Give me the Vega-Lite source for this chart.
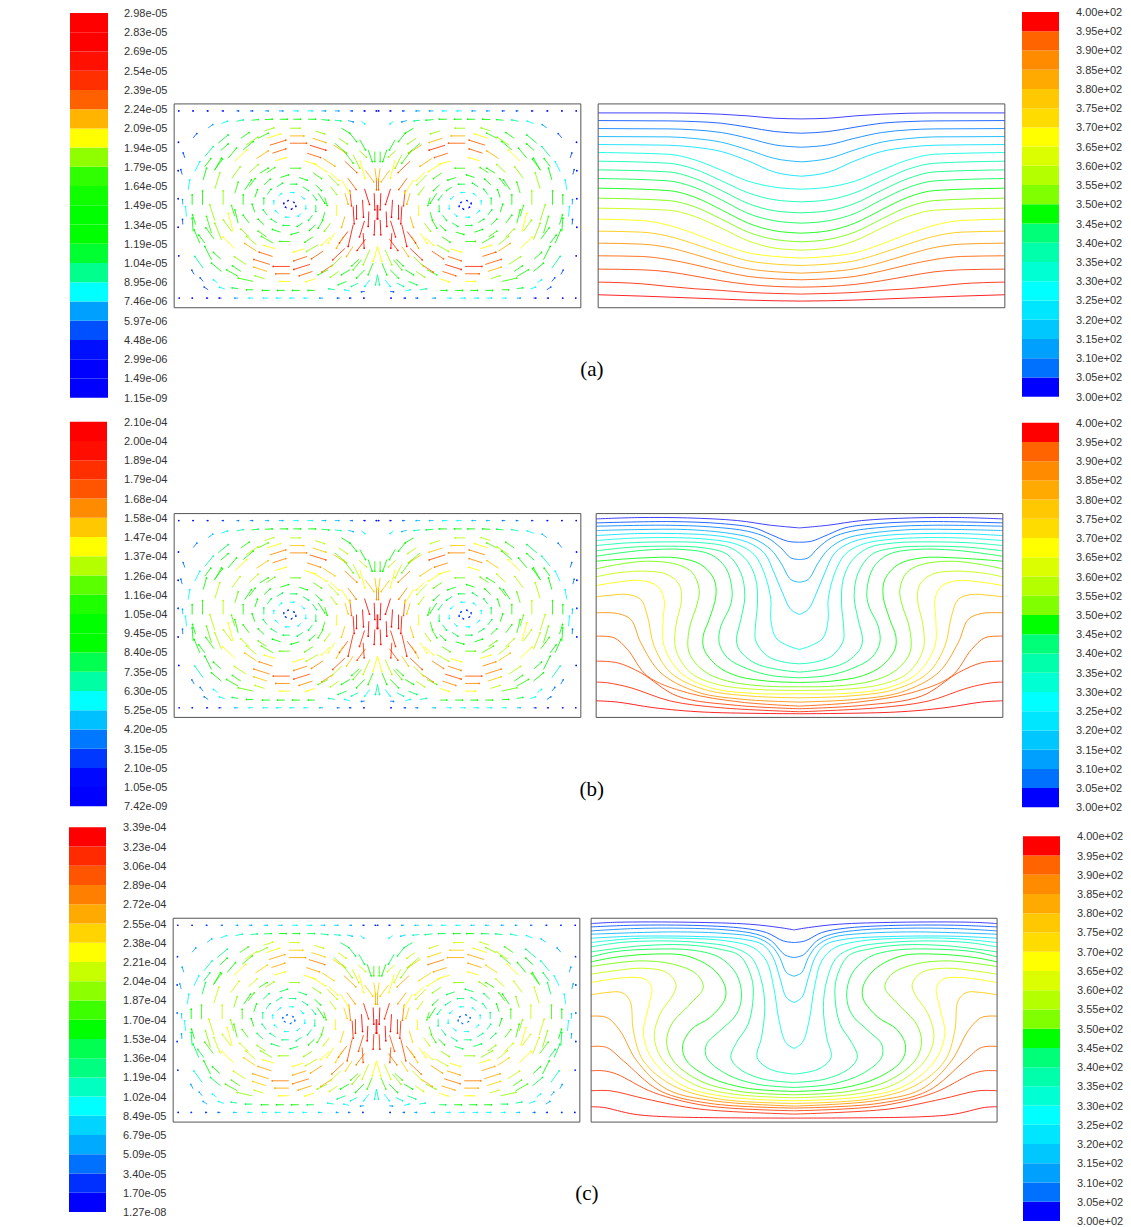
{"$schema":"https://vega.github.io/schema/vega-lite/v6.json","width":1131,"height":1227,"padding":0,"autosize":{"type":"fit","contains":"padding"},"background":"white","config":{"view":{"stroke":null},"axis":{"disable":true},"legend":{"disable":true},"text":{"font":"Liberation Sans"}},
"resolve":{"scale":{"x":"independent","y":"independent","color":"independent"}},
"datasets":{
"cells":[{"k":0,"k1":1},{"k":1,"k1":2},{"k":2,"k1":3},{"k":3,"k1":4},{"k":4,"k1":5},{"k":5,"k1":6},{"k":6,"k1":7},{"k":7,"k1":8},{"k":8,"k1":9},{"k":9,"k1":10},{"k":10,"k1":11},{"k":11,"k1":12},{"k":12,"k1":13},{"k":13,"k1":14},{"k":14,"k1":15},{"k":15,"k1":16},{"k":16,"k1":17},{"k":17,"k1":18},{"k":18,"k1":19},{"k":19,"k1":20}],
"labA":[{"k":20,"t":"2.98e-05"},{"k":19,"t":"2.83e-05"},{"k":18,"t":"2.69e-05"},{"k":17,"t":"2.54e-05"},{"k":16,"t":"2.39e-05"},{"k":15,"t":"2.24e-05"},{"k":14,"t":"2.09e-05"},{"k":13,"t":"1.94e-05"},{"k":12,"t":"1.79e-05"},{"k":11,"t":"1.64e-05"},{"k":10,"t":"1.49e-05"},{"k":9,"t":"1.34e-05"},{"k":8,"t":"1.19e-05"},{"k":7,"t":"1.04e-05"},{"k":6,"t":"8.95e-06"},{"k":5,"t":"7.46e-06"},{"k":4,"t":"5.97e-06"},{"k":3,"t":"4.48e-06"},{"k":2,"t":"2.99e-06"},{"k":1,"t":"1.49e-06"},{"k":0,"t":"1.15e-09"}],
"labB":[{"k":20,"t":"2.10e-04"},{"k":19,"t":"2.00e-04"},{"k":18,"t":"1.89e-04"},{"k":17,"t":"1.79e-04"},{"k":16,"t":"1.68e-04"},{"k":15,"t":"1.58e-04"},{"k":14,"t":"1.47e-04"},{"k":13,"t":"1.37e-04"},{"k":12,"t":"1.26e-04"},{"k":11,"t":"1.16e-04"},{"k":10,"t":"1.05e-04"},{"k":9,"t":"9.45e-05"},{"k":8,"t":"8.40e-05"},{"k":7,"t":"7.35e-05"},{"k":6,"t":"6.30e-05"},{"k":5,"t":"5.25e-05"},{"k":4,"t":"4.20e-05"},{"k":3,"t":"3.15e-05"},{"k":2,"t":"2.10e-05"},{"k":1,"t":"1.05e-05"},{"k":0,"t":"7.42e-09"}],
"labC":[{"k":20,"t":"3.39e-04"},{"k":19,"t":"3.23e-04"},{"k":18,"t":"3.06e-04"},{"k":17,"t":"2.89e-04"},{"k":16,"t":"2.72e-04"},{"k":15,"t":"2.55e-04"},{"k":14,"t":"2.38e-04"},{"k":13,"t":"2.21e-04"},{"k":12,"t":"2.04e-04"},{"k":11,"t":"1.87e-04"},{"k":10,"t":"1.70e-04"},{"k":9,"t":"1.53e-04"},{"k":8,"t":"1.36e-04"},{"k":7,"t":"1.19e-04"},{"k":6,"t":"1.02e-04"},{"k":5,"t":"8.49e-05"},{"k":4,"t":"6.79e-05"},{"k":3,"t":"5.09e-05"},{"k":2,"t":"3.40e-05"},{"k":1,"t":"1.70e-05"},{"k":0,"t":"1.27e-08"}],
"labT":[{"k":20,"t":"4.00e+02"},{"k":19,"t":"3.95e+02"},{"k":18,"t":"3.90e+02"},{"k":17,"t":"3.85e+02"},{"k":16,"t":"3.80e+02"},{"k":15,"t":"3.75e+02"},{"k":14,"t":"3.70e+02"},{"k":13,"t":"3.65e+02"},{"k":12,"t":"3.60e+02"},{"k":11,"t":"3.55e+02"},{"k":10,"t":"3.50e+02"},{"k":9,"t":"3.45e+02"},{"k":8,"t":"3.40e+02"},{"k":7,"t":"3.35e+02"},{"k":6,"t":"3.30e+02"},{"k":5,"t":"3.25e+02"},{"k":4,"t":"3.20e+02"},{"k":3,"t":"3.15e+02"},{"k":2,"t":"3.10e+02"},{"k":1,"t":"3.05e+02"},{"k":0,"t":"3.00e+02"}],
"frame":[{"a":-610,"b":610,"lo":0,"hi":612}],
"capA":[{"t":"(a)","d":643,"y":-186}],"capB":[{"t":"(b)","d":643,"y":-219}],"capC":[{"t":"(c)","d":631,"y":-216}],
"vec":[
{"d":281,"y":309,"d2":281,"y2":314,"c":2},{"d":272,"y":319,"d2":268,"y2":322,"c":2},{"d":254,"y":319,"d2":250,"y2":316,"c":2},{"d":245,"y":309,"d2":245,"y2":304,"c":2},{"d":254,"y":299,"d2":258,"y2":296,"c":2},{"d":272,"y":299,"d2":276,"y2":302,"c":2},
{"d":311,"y":309,"d2":311,"y2":321,"c":5},{"d":297,"y":335,"d2":288,"y2":343,"c":5},{"d":263,"y":346,"d2":251,"y2":346,"c":5},{"d":229,"y":335,"d2":220,"y2":327,"c":5},{"d":215,"y":309,"d2":215,"y2":297,"c":5},{"d":229,"y":283,"d2":238,"y2":275,"c":5},{"d":263,"y":272,"d2":275,"y2":272,"c":5},{"d":297,"y":283,"d2":306,"y2":291,"c":5},
{"d":341,"y":309,"d2":341,"y2":329,"c":7},{"d":331,"y":340,"d2":319,"y2":356,"c":7},{"d":302,"y":363,"d2":285,"y2":374,"c":7},{"d":263,"y":371,"d2":243,"y2":371,"c":7},{"d":224,"y":363,"d2":207,"y2":352,"c":7},{"d":195,"y":340,"d2":183,"y2":324,"c":7},{"d":185,"y":309,"d2":185,"y2":289,"c":7},{"d":195,"y":278,"d2":207,"y2":262,"c":7},{"d":224,"y":255,"d2":241,"y2":244,"c":7},{"d":263,"y":247,"d2":283,"y2":247,"c":7},{"d":302,"y":255,"d2":319,"y2":266,"c":7},{"d":331,"y":278,"d2":343,"y2":294,"c":7},
{"d":368,"y":331,"d2":360,"y2":355,"c":9},{"d":340,"y":369,"d2":322,"y2":386,"c":8},{"d":291,"y":391,"d2":267,"y2":399,"c":8},{"d":235,"y":391,"d2":211,"y2":383,"c":8},{"d":186,"y":369,"d2":168,"y2":352,"c":9},{"d":158,"y":331,"d2":151,"y2":307,"c":10},{"d":158,"y":287,"d2":165,"y2":263,"c":10},{"d":186,"y":249,"d2":204,"y2":232,"c":9},{"d":235,"y":227,"d2":259,"y2":220,"c":8},{"d":291,"y":227,"d2":315,"y2":235,"c":8},{"d":340,"y":249,"d2":358,"y2":266,"c":8},{"d":368,"y":287,"d2":376,"y2":311,"c":9},
{"d":403,"y":309,"d2":403,"y2":339,"c":10},{"d":385,"y":364,"d2":367,"y2":388,"c":10},{"d":333,"y":405,"d2":308,"y2":421,"c":11},{"d":263,"y":419,"d2":233,"y2":419,"c":11},{"d":193,"y":405,"d2":168,"y2":388,"c":11},{"d":141,"y":364,"d2":123,"y2":340,"c":12},{"d":123,"y":309,"d2":123,"y2":279,"c":13},{"d":141,"y":254,"d2":159,"y2":230,"c":12},{"d":193,"y":213,"d2":218,"y2":197,"c":11},{"d":263,"y":199,"d2":293,"y2":199,"c":11},{"d":333,"y":213,"d2":358,"y2":230,"c":11},{"d":385,"y":254,"d2":403,"y2":278,"c":10},
{"d":428,"y":344,"d2":418,"y2":377,"c":11},{"d":384,"y":406,"d2":358,"y2":430,"c":12},{"d":307,"y":441,"d2":274,"y2":451,"c":13},{"d":219,"y":441,"d2":186,"y2":431,"c":13},{"d":142,"y":406,"d2":116,"y2":382,"c":13},{"d":98,"y":344,"d2":88,"y2":311,"c":14},{"d":98,"y":274,"d2":108,"y2":241,"c":14},{"d":142,"y":212,"d2":168,"y2":188,"c":13},{"d":219,"y":177,"d2":252,"y2":167,"c":13},{"d":307,"y":177,"d2":340,"y2":187,"c":13},{"d":384,"y":212,"d2":410,"y2":236,"c":12},{"d":428,"y":274,"d2":438,"y2":307,"c":11},
{"d":463,"y":309,"d2":463,"y2":351,"c":12},{"d":437,"y":389,"d2":412,"y2":423,"c":12},{"d":363,"y":448,"d2":328,"y2":471,"c":14},{"d":315,"y":464,"d2":275,"y2":477,"c":15},{"d":211,"y":464,"d2":171,"y2":451,"c":15},{"d":163,"y":448,"d2":128,"y2":425,"c":14},{"d":89,"y":389,"d2":64,"y2":355,"c":15},{"d":63,"y":309,"d2":63,"y2":267,"c":18},{"d":89,"y":229,"d2":114,"y2":195,"c":16},{"d":163,"y":170,"d2":198,"y2":147,"c":15},{"d":211,"y":154,"d2":251,"y2":141,"c":15},{"d":315,"y":154,"d2":355,"y2":167,"c":15},{"d":363,"y":170,"d2":398,"y2":193,"c":14},{"d":437,"y":229,"d2":462,"y2":263,"c":12},
{"d":488,"y":357,"d2":473,"y2":405,"c":12},{"d":428,"y":440,"d2":392,"y2":474,"c":13},{"d":323,"y":488,"d2":275,"y2":503,"c":15},{"d":263,"y":494,"d2":213,"y2":494,"c":15},{"d":203,"y":488,"d2":155,"y2":473,"c":16},{"d":98,"y":440,"d2":62,"y2":406,"c":15},{"d":39,"y":357,"d2":24,"y2":310,"c":18},{"d":39,"y":261,"d2":54,"y2":213,"c":17},{"d":98,"y":178,"d2":134,"y2":144,"c":16},{"d":203,"y":130,"d2":251,"y2":115,"c":16},{"d":263,"y":124,"d2":313,"y2":124,"c":16},{"d":323,"y":130,"d2":371,"y2":145,"c":15},{"d":428,"y":178,"d2":464,"y2":212,"c":13},{"d":488,"y":261,"d2":503,"y2":309,"c":12},
{"d":525,"y":309,"d2":525,"y2":351,"c":10},{"d":490,"y":412,"d2":465,"y2":446,"c":10},{"d":394,"y":489,"d2":359,"y2":512,"c":12},{"d":331,"y":509,"d2":291,"y2":522,"c":13},{"d":263,"y":516,"d2":221,"y2":516,"c":14},{"d":195,"y":509,"d2":155,"y2":496,"c":14},{"d":132,"y":489,"d2":97,"y2":466,"c":14},{"d":36,"y":412,"d2":11,"y2":378,"c":14},{"d":1,"y":309,"d2":1,"y2":267,"c":19},{"d":36,"y":206,"d2":61,"y2":172,"c":16},{"d":132,"y":130,"d2":167,"y2":107,"c":15},{"d":195,"y":109,"d2":235,"y2":96,"c":15},{"d":263,"y":102,"d2":305,"y2":102,"c":15},{"d":331,"y":109,"d2":371,"y2":122,"c":14},{"d":394,"y":130,"d2":429,"y2":153,"c":12},{"d":490,"y":206,"d2":515,"y2":240,"c":10},
{"d":556,"y":309,"d2":556,"y2":339,"c":9},{"d":518,"y":424,"d2":500,"y2":448,"c":8},{"d":470,"y":472,"d2":448,"y2":492,"c":9},{"d":410,"y":509,"d2":385,"y2":526,"c":10},{"d":339,"y":531,"d2":311,"y2":540,"c":12},{"d":263,"y":539,"d2":233,"y2":539,"c":12},{"d":187,"y":531,"d2":159,"y2":522,"c":12},{"d":116,"y":509,"d2":91,"y2":492,"c":12},{"d":55,"y":472,"d2":33,"y2":452,"c":12},{"d":55,"y":146,"d2":77,"y2":126,"c":10},{"d":116,"y":109,"d2":141,"y2":92,"c":12},{"d":187,"y":87,"d2":215,"y2":78,"c":13},{"d":263,"y":79,"d2":293,"y2":79,"c":13},{"d":339,"y":87,"d2":367,"y2":96,"c":12},{"d":410,"y":109,"d2":435,"y2":126,"c":10},{"d":470,"y":146,"d2":492,"y2":166,"c":9},{"d":518,"y":194,"d2":536,"y2":218,"c":8},{"d":546,"y":250,"d2":555,"y2":279,"c":9},
{"d":48,"y":560,"d2":38,"y2":552,"c":5},{"d":88,"y":562,"d2":73,"y2":558,"c":4},{"d":128,"y":563,"d2":110,"y2":561,"c":6},{"d":168,"y":565,"d2":146,"y2":563,"c":7},{"d":208,"y":566,"d2":186,"y2":566,"c":8},{"d":253,"y":566,"d2":231,"y2":566,"c":9},{"d":293,"y":566,"d2":271,"y2":566,"c":9},{"d":338,"y":565,"d2":316,"y2":566,"c":8},{"d":378,"y":563,"d2":358,"y2":565,"c":7},{"d":423,"y":560,"d2":403,"y2":564,"c":6},{"d":468,"y":553,"d2":450,"y2":560,"c":5},{"d":508,"y":540,"d2":494,"y2":550,"c":4},{"d":553,"y":510,"d2":542,"y2":523,"c":3},
{"d":578,"y":450,"d2":583,"y2":465,"c":3},{"d":586,"y":400,"d2":590,"y2":415,"c":3},{"d":584,"y":310,"d2":585,"y2":325,"c":4},{"d":584,"y":250,"d2":585,"y2":265,"c":3},{"d":550,"y":100,"d2":557,"y2":113,"c":3},
{"d":38,"y":49,"d2":48,"y2":48,"c":3},{"d":83,"y":50,"d2":98,"y2":54,"c":5},{"d":128,"y":54,"d2":146,"y2":57,"c":6},{"d":188,"y":52,"d2":208,"y2":52,"c":8},{"d":233,"y":52,"d2":255,"y2":52,"c":9},{"d":278,"y":52,"d2":300,"y2":52,"c":9},{"d":323,"y":52,"d2":345,"y2":52,"c":9},{"d":373,"y":54,"d2":393,"y2":54,"c":8},{"d":418,"y":57,"d2":436,"y2":60,"c":7},{"d":458,"y":56,"d2":474,"y2":62,"c":5},{"d":508,"y":54,"d2":520,"y2":62,"c":3},{"d":480,"y":75,"d2":492,"y2":84,"c":5},{"d":523,"y":79,"d2":532,"y2":90,"c":3},
{"d":6,"y":591,"d2":3,"y2":591,"c":1},{"d":43,"y":591,"d2":38,"y2":591,"c":1},{"d":83,"y":591,"d2":76,"y2":591,"c":3},{"d":128,"y":591,"d2":116,"y2":591,"c":4},{"d":168,"y":591,"d2":156,"y2":591,"c":4},{"d":210,"y":591,"d2":196,"y2":591,"c":5},{"d":253,"y":591,"d2":239,"y2":591,"c":5},{"d":296,"y":591,"d2":284,"y2":591,"c":4},{"d":338,"y":591,"d2":328,"y2":591,"c":4},{"d":383,"y":591,"d2":375,"y2":591,"c":3},{"d":423,"y":591,"d2":417,"y2":591,"c":3},{"d":468,"y":591,"d2":463,"y2":591,"c":2},{"d":513,"y":591,"d2":509,"y2":591,"c":1},{"d":556,"y":591,"d2":553,"y2":591,"c":1},{"d":598,"y":591,"d2":596,"y2":591,"c":0},
{"d":38,"y":29,"d2":41,"y2":29,"c":1},{"d":78,"y":29,"d2":83,"y2":29,"c":2},{"d":113,"y":29,"d2":120,"y2":29,"c":3},{"d":163,"y":29,"d2":173,"y2":29,"c":4},{"d":208,"y":29,"d2":220,"y2":29,"c":5},{"d":248,"y":29,"d2":262,"y2":29,"c":5},{"d":288,"y":29,"d2":302,"y2":29,"c":5},{"d":328,"y":29,"d2":342,"y2":29,"c":5},{"d":373,"y":29,"d2":385,"y2":29,"c":5},{"d":418,"y":29,"d2":428,"y2":29,"c":4},{"d":468,"y":29,"d2":475,"y2":29,"c":2},{"d":508,"y":29,"d2":512,"y2":29,"c":1},{"d":553,"y":29,"d2":556,"y2":29,"c":1},{"d":593,"y":29,"d2":595,"y2":29,"c":0},
{"d":598,"y":494,"d2":597,"y2":497,"c":1},{"d":598,"y":409,"d2":598,"y2":412,"c":1},{"d":598,"y":324,"d2":598,"y2":328,"c":2},{"d":598,"y":239,"d2":598,"y2":242,"c":1},{"d":596,"y":154,"d2":596,"y2":156,"c":1},
{"d":10,"y":344,"d2":8,"y2":294,"c":19},{"d":45,"y":324,"d2":42,"y2":272,"c":19},{"d":26,"y":289,"d2":28,"y2":244,"c":19},{"d":8,"y":264,"d2":10,"y2":219,"c":18},{"d":73,"y":304,"d2":70,"y2":252,"c":18},{"d":3,"y":389,"d2":3,"y2":354,"c":15},{"d":43,"y":224,"d2":40,"y2":179,"c":17},{"d":83,"y":354,"d2":78,"y2":306,"c":16},{"d":73,"y":249,"d2":88,"y2":184,"c":17},
{"d":8,"y":469,"d2":8,"y2":439,"c":10},{"d":28,"y":474,"d2":16,"y2":439,"c":9},{"d":53,"y":504,"d2":36,"y2":474,"c":8},{"d":83,"y":524,"d2":63,"y2":499,"c":8},{"d":108,"y":539,"d2":83,"y2":524,"c":8},{"d":53,"y":444,"d2":38,"y2":389,"c":13},{"d":73,"y":459,"d2":53,"y2":419,"c":12},{"d":8,"y":419,"d2":3,"y2":384,"c":14},{"d":103,"y":474,"d2":73,"y2":434,"c":11},{"d":128,"y":494,"d2":93,"y2":464,"c":11},
{"d":0,"y":184,"d2":13,"y2":139,"c":13},{"d":23,"y":174,"d2":43,"y2":129,"c":12},{"d":13,"y":134,"d2":28,"y2":99,"c":10},{"d":48,"y":144,"d2":73,"y2":114,"c":11},{"d":38,"y":114,"d2":63,"y2":89,"c":9},{"d":83,"y":114,"d2":108,"y2":99,"c":9},{"d":0,"y":99,"d2":6,"y2":69,"c":6},{"d":23,"y":84,"d2":38,"y2":64,"c":5},{"d":58,"y":74,"d2":78,"y2":64,"c":6},{"d":93,"y":79,"d2":118,"y2":69,"c":7},{"d":108,"y":154,"d2":138,"y2":124,"c":12},{"d":148,"y":114,"d2":178,"y2":99,"c":11},{"d":73,"y":184,"d2":93,"y2":154,"c":14},{"d":103,"y":214,"d2":123,"y2":179,"c":14},
{"d":498,"y":144,"d2":518,"y2":184,"c":9},{"d":533,"y":194,"d2":550,"y2":234,"c":8},{"d":553,"y":229,"d2":556,"y2":269,"c":8},{"d":498,"y":224,"d2":513,"y2":274,"c":11},{"d":468,"y":204,"d2":488,"y2":254,"c":12},{"d":433,"y":229,"d2":448,"y2":284,"c":13},{"d":478,"y":494,"d2":448,"y2":519,"c":7},{"d":518,"y":454,"d2":493,"y2":484,"c":6},{"d":548,"y":409,"d2":533,"y2":439,"c":5},{"d":568,"y":354,"d2":563,"y2":384,"c":5},{"d":573,"y":274,"d2":576,"y2":304,"c":5},{"d":523,"y":384,"d2":513,"y2":419,"c":8},{"d":488,"y":414,"d2":468,"y2":449,"c":9},{"d":448,"y":449,"d2":423,"y2":479,"c":9},{"d":403,"y":474,"d2":373,"y2":499,"c":10},{"d":358,"y":509,"d2":328,"y2":524,"c":11},{"d":523,"y":119,"d2":548,"y2":154,"c":6},{"d":468,"y":109,"d2":498,"y2":134,"c":8},{"d":418,"y":94,"d2":453,"y2":114,"c":10},{"d":373,"y":79,"d2":418,"y2":89,"c":11},
{"d":398,"y":354,"d2":378,"y2":384,"c":9},{"d":418,"y":254,"d2":428,"y2":294,"c":10},{"d":353,"y":404,"d2":328,"y2":419,"c":10},{"d":313,"y":194,"d2":348,"y2":214,"c":11},{"d":363,"y":189,"d2":393,"y2":214,"c":12},{"d":128,"y":224,"d2":148,"y2":194,"c":13},{"d":178,"y":189,"d2":213,"y2":169,"c":12},{"d":108,"y":384,"d2":83,"y2":344,"c":13},{"d":148,"y":399,"d2":118,"y2":369,"c":12},{"d":193,"y":434,"d2":153,"y2":409,"c":13},{"d":163,"y":264,"d2":178,"y2":239,"c":10},{"d":178,"y":344,"d2":158,"y2":314,"c":9}
],
"isoA":[
{"c":1,"d":0,"y":567},{"c":1,"d":80,"y":569},{"c":1,"d":160,"y":576},{"c":1,"d":240,"y":581},{"c":1,"d":320,"y":584},{"c":1,"d":400,"y":585},{"c":1,"d":610,"y":585},
{"c":2,"d":0,"y":524},{"c":2,"d":80,"y":529},{"c":2,"d":160,"y":542},{"c":2,"d":240,"y":554},{"c":2,"d":320,"y":559},{"c":2,"d":400,"y":561},{"c":2,"d":610,"y":562},
{"c":3,"d":0,"y":482},{"c":3,"d":80,"y":489},{"c":3,"d":160,"y":509},{"c":3,"d":240,"y":526},{"c":3,"d":320,"y":534},{"c":3,"d":400,"y":537},{"c":3,"d":610,"y":538},
{"c":4,"d":0,"y":438},{"c":4,"d":80,"y":448},{"c":4,"d":160,"y":474},{"c":4,"d":240,"y":497},{"c":4,"d":320,"y":508},{"c":4,"d":400,"y":513},{"c":4,"d":610,"y":514},
{"c":5,"d":0,"y":395},{"c":5,"d":80,"y":407},{"c":5,"d":160,"y":441},{"c":5,"d":240,"y":469},{"c":5,"d":320,"y":482},{"c":5,"d":400,"y":488},{"c":5,"d":610,"y":490},
{"c":6,"d":0,"y":356},{"c":6,"d":80,"y":362},{"c":6,"d":160,"y":380},{"c":6,"d":240,"y":413},{"c":6,"d":320,"y":444},{"c":6,"d":400,"y":461},{"c":6,"d":610,"y":466},
{"c":7,"d":0,"y":318},{"c":7,"d":80,"y":324},{"c":7,"d":160,"y":345},{"c":7,"d":240,"y":381},{"c":7,"d":320,"y":416},{"c":7,"d":400,"y":434},{"c":7,"d":610,"y":440},
{"c":8,"d":0,"y":285},{"c":8,"d":80,"y":291},{"c":8,"d":160,"y":313},{"c":8,"d":240,"y":352},{"c":8,"d":320,"y":388},{"c":8,"d":400,"y":408},{"c":8,"d":610,"y":414},
{"c":9,"d":0,"y":254},{"c":9,"d":80,"y":261},{"c":9,"d":160,"y":283},{"c":9,"d":240,"y":324},{"c":9,"d":320,"y":361},{"c":9,"d":400,"y":381},{"c":9,"d":610,"y":388},
{"c":10,"d":0,"y":224},{"c":10,"d":80,"y":231},{"c":10,"d":160,"y":254},{"c":10,"d":240,"y":294},{"c":10,"d":320,"y":332},{"c":10,"d":400,"y":352},{"c":10,"d":610,"y":359},
{"c":11,"d":0,"y":198},{"c":11,"d":80,"y":205},{"c":11,"d":160,"y":227},{"c":11,"d":240,"y":266},{"c":11,"d":320,"y":303},{"c":11,"d":400,"y":322},{"c":11,"d":610,"y":329},
{"c":12,"d":0,"y":173},{"c":12,"d":80,"y":179},{"c":12,"d":160,"y":201},{"c":12,"d":240,"y":239},{"c":12,"d":320,"y":274},{"c":12,"d":400,"y":293},{"c":12,"d":610,"y":299},
{"c":13,"d":0,"y":149},{"c":13,"d":80,"y":154},{"c":13,"d":160,"y":165},{"c":13,"d":240,"y":191},{"c":13,"d":320,"y":222},{"c":13,"d":400,"y":248},{"c":13,"d":480,"y":262},{"c":13,"d":610,"y":266},
{"c":14,"d":0,"y":127},{"c":14,"d":80,"y":131},{"c":14,"d":160,"y":141},{"c":14,"d":240,"y":164},{"c":14,"d":320,"y":191},{"c":14,"d":400,"y":215},{"c":14,"d":480,"y":227},{"c":14,"d":610,"y":230},
{"c":15,"d":0,"y":104},{"c":15,"d":80,"y":108},{"c":15,"d":160,"y":117},{"c":15,"d":240,"y":136},{"c":15,"d":320,"y":160},{"c":15,"d":400,"y":181},{"c":15,"d":480,"y":191},{"c":15,"d":610,"y":194},
{"c":16,"d":0,"y":84},{"c":16,"d":80,"y":87},{"c":16,"d":160,"y":94},{"c":16,"d":240,"y":110},{"c":16,"d":320,"y":129},{"c":16,"d":400,"y":145},{"c":16,"d":480,"y":154},{"c":16,"d":610,"y":156},
{"c":17,"d":0,"y":62},{"c":17,"d":80,"y":64},{"c":17,"d":160,"y":70},{"c":17,"d":240,"y":81},{"c":17,"d":320,"y":95},{"c":17,"d":400,"y":108},{"c":17,"d":480,"y":114},{"c":17,"d":610,"y":116},
{"c":18,"d":0,"y":41},{"c":18,"d":80,"y":43},{"c":18,"d":160,"y":46},{"c":18,"d":240,"y":52},{"c":18,"d":320,"y":57},{"c":18,"d":400,"y":64},{"c":18,"d":480,"y":72},{"c":18,"d":610,"y":77},
{"c":19,"d":0,"y":20},{"c":19,"d":80,"y":21},{"c":19,"d":160,"y":23},{"c":19,"d":240,"y":26},{"c":19,"d":320,"y":29},{"c":19,"d":400,"y":32},{"c":19,"d":480,"y":35},{"c":19,"d":610,"y":39}
],
"isoB":[
{"c":1,"i":0,"d":0,"y":569},{"c":1,"i":1,"d":86,"y":577},{"c":1,"i":2,"d":186,"y":591},{"c":1,"i":3,"d":336,"y":599},{"c":1,"i":4,"d":486,"y":600},{"c":1,"i":5,"d":610,"y":596},
{"c":2,"i":0,"d":0,"y":526},{"c":2,"i":1,"d":36,"y":529},{"c":2,"i":2,"d":86,"y":549},{"c":2,"i":3,"d":136,"y":569},{"c":2,"i":4,"d":236,"y":582},{"c":2,"i":5,"d":386,"y":588},{"c":2,"i":6,"d":610,"y":584},
{"c":3,"i":0,"d":0,"y":474},{"c":3,"i":1,"d":26,"y":479},{"c":3,"i":2,"d":56,"y":509},{"c":3,"i":3,"d":96,"y":539},{"c":3,"i":4,"d":156,"y":559},{"c":3,"i":5,"d":266,"y":572},{"c":3,"i":6,"d":406,"y":577},{"c":3,"i":7,"d":610,"y":574},
{"c":4,"i":0,"d":0,"y":406},{"c":4,"i":1,"d":26,"y":414},{"c":4,"i":2,"d":56,"y":464},{"c":4,"i":3,"d":86,"y":504},{"c":4,"i":4,"d":136,"y":536},{"c":4,"i":5,"d":206,"y":552},{"c":4,"i":6,"d":336,"y":564},{"c":4,"i":7,"d":486,"y":564},{"c":4,"i":8,"d":610,"y":561},
{"c":5,"i":0,"d":0,"y":309},{"c":5,"i":1,"d":26,"y":324},{"c":5,"i":2,"d":51,"y":374},{"c":5,"i":3,"d":76,"y":434},{"c":5,"i":4,"d":106,"y":494},{"c":5,"i":5,"d":156,"y":526},{"c":5,"i":6,"d":236,"y":544},{"c":5,"i":7,"d":366,"y":552},{"c":5,"i":8,"d":486,"y":552},{"c":5,"i":9,"d":610,"y":546},
{"c":6,"i":0,"d":0,"y":204},{"c":6,"i":1,"d":36,"y":216},{"c":6,"i":2,"d":71,"y":239},{"c":6,"i":3,"d":86,"y":294},{"c":6,"i":4,"d":86,"y":354},{"c":6,"i":5,"d":106,"y":434},{"c":6,"i":6,"d":136,"y":489},{"c":6,"i":7,"d":186,"y":519},{"c":6,"i":8,"d":266,"y":534},{"c":6,"i":9,"d":386,"y":540},{"c":6,"i":10,"d":506,"y":538},{"c":6,"i":11,"d":610,"y":531},
{"c":7,"i":0,"d":0,"y":161},{"c":7,"i":1,"d":46,"y":166},{"c":7,"i":2,"d":96,"y":184},{"c":7,"i":3,"d":131,"y":229},{"c":7,"i":4,"d":133,"y":264},{"c":7,"i":5,"d":126,"y":344},{"c":7,"i":6,"d":131,"y":414},{"c":7,"i":7,"d":156,"y":469},{"c":7,"i":8,"d":206,"y":509},{"c":7,"i":9,"d":286,"y":524},{"c":7,"i":10,"d":406,"y":527},{"c":7,"i":11,"d":516,"y":524},{"c":7,"i":12,"d":610,"y":516},
{"c":8,"i":0,"d":0,"y":136},{"c":8,"i":1,"d":66,"y":144},{"c":8,"i":2,"d":136,"y":164},{"c":8,"i":3,"d":181,"y":204},{"c":8,"i":4,"d":189,"y":234},{"c":8,"i":5,"d":176,"y":294},{"c":8,"i":6,"d":164,"y":364},{"c":8,"i":7,"d":176,"y":434},{"c":8,"i":8,"d":216,"y":489},{"c":8,"i":9,"d":286,"y":509},{"c":8,"i":10,"d":386,"y":514},{"c":8,"i":11,"d":506,"y":511},{"c":8,"i":12,"d":610,"y":500},
{"c":9,"i":0,"d":0,"y":119},{"c":9,"i":1,"d":86,"y":126},{"c":9,"i":2,"d":156,"y":146},{"c":9,"i":3,"d":216,"y":179},{"c":9,"i":4,"d":241,"y":224},{"c":9,"i":5,"d":236,"y":274},{"c":9,"i":6,"d":208,"y":334},{"c":9,"i":7,"d":202,"y":379},{"c":9,"i":8,"d":221,"y":449},{"c":9,"i":9,"d":266,"y":489},{"c":9,"i":10,"d":346,"y":504},{"c":9,"i":11,"d":466,"y":502},{"c":9,"i":12,"d":610,"y":484},
{"c":10,"i":0,"d":0,"y":105},{"c":10,"i":1,"d":96,"y":109},{"c":10,"i":2,"d":186,"y":124},{"c":10,"i":3,"d":246,"y":154},{"c":10,"i":4,"d":286,"y":204},{"c":10,"i":5,"d":289,"y":244},{"c":10,"i":6,"d":271,"y":294},{"c":10,"i":7,"d":251,"y":364},{"c":10,"i":8,"d":256,"y":414},{"c":10,"i":9,"d":296,"y":459},{"c":10,"i":10,"d":366,"y":479},{"c":10,"i":11,"d":466,"y":479},{"c":10,"i":12,"d":610,"y":469},
{"c":11,"i":0,"d":0,"y":92},{"c":11,"i":1,"d":106,"y":94},{"c":11,"i":2,"d":216,"y":109},{"c":11,"i":3,"d":286,"y":139},{"c":11,"i":4,"d":331,"y":194},{"c":11,"i":5,"d":331,"y":264},{"c":11,"i":6,"d":306,"y":344},{"c":11,"i":7,"d":301,"y":384},{"c":11,"i":8,"d":321,"y":434},{"c":11,"i":9,"d":366,"y":459},{"c":11,"i":10,"d":456,"y":469},{"c":11,"i":11,"d":546,"y":459},{"c":11,"i":12,"d":610,"y":446},
{"c":12,"i":0,"d":0,"y":81},{"c":12,"i":1,"d":126,"y":84},{"c":12,"i":2,"d":246,"y":99},{"c":12,"i":3,"d":326,"y":134},{"c":12,"i":4,"d":371,"y":204},{"c":12,"i":5,"d":371,"y":274},{"c":12,"i":6,"d":354,"y":354},{"c":12,"i":7,"d":361,"y":399},{"c":12,"i":8,"d":396,"y":429},{"c":12,"i":9,"d":456,"y":439},{"c":12,"i":10,"d":546,"y":434},{"c":12,"i":11,"d":610,"y":422},
{"c":13,"i":0,"d":0,"y":71},{"c":13,"i":1,"d":136,"y":72},{"c":13,"i":2,"d":266,"y":89},{"c":13,"i":3,"d":356,"y":134},{"c":13,"i":4,"d":406,"y":214},{"c":13,"i":5,"d":409,"y":294},{"c":13,"i":6,"d":406,"y":354},{"c":13,"i":7,"d":426,"y":394},{"c":13,"i":8,"d":476,"y":411},{"c":13,"i":9,"d":546,"y":406},{"c":13,"i":10,"d":610,"y":396},
{"c":14,"i":0,"d":0,"y":59},{"c":14,"i":1,"d":146,"y":64},{"c":14,"i":2,"d":286,"y":84},{"c":14,"i":3,"d":386,"y":134},{"c":14,"i":4,"d":436,"y":214},{"c":14,"i":5,"d":456,"y":304},{"c":14,"i":6,"d":476,"y":354},{"c":14,"i":7,"d":516,"y":369},{"c":14,"i":8,"d":566,"y":367},{"c":14,"i":9,"d":610,"y":362},
{"c":15,"i":0,"d":0,"y":46},{"c":15,"i":1,"d":166,"y":54},{"c":15,"i":2,"d":306,"y":76},{"c":15,"i":3,"d":416,"y":134},{"c":15,"i":4,"d":476,"y":224},{"c":15,"i":5,"d":506,"y":294},{"c":15,"i":6,"d":546,"y":312},{"c":15,"i":7,"d":610,"y":314},
{"c":16,"i":0,"d":0,"y":34},{"c":16,"i":1,"d":176,"y":46},{"c":16,"i":2,"d":336,"y":74},{"c":16,"i":3,"d":456,"y":124},{"c":16,"i":4,"d":516,"y":204},{"c":16,"i":5,"d":556,"y":239},{"c":16,"i":6,"d":610,"y":244},
{"c":17,"i":0,"d":0,"y":26},{"c":17,"i":1,"d":186,"y":36},{"c":17,"i":2,"d":366,"y":64},{"c":17,"i":3,"d":476,"y":134},{"c":17,"i":4,"d":546,"y":164},{"c":17,"i":5,"d":610,"y":169},
{"c":18,"i":0,"d":0,"y":17},{"c":18,"i":1,"d":236,"y":29},{"c":18,"i":2,"d":386,"y":49},{"c":18,"i":3,"d":506,"y":89},{"c":18,"i":4,"d":576,"y":104},{"c":18,"i":5,"d":610,"y":106},
{"c":19,"i":0,"d":0,"y":11},{"c":19,"i":1,"d":286,"y":16},{"c":19,"i":2,"d":436,"y":29},{"c":19,"i":3,"d":546,"y":46},{"c":19,"i":4,"d":610,"y":50}
],
"isoC":[
{"c":1,"i":0,"d":0,"y":577},{"c":1,"i":1,"d":43,"y":584},{"c":1,"i":2,"d":133,"y":594},{"c":1,"i":3,"d":313,"y":600},{"c":1,"i":4,"d":533,"y":600},{"c":1,"i":5,"d":610,"y":596},
{"c":2,"i":0,"d":0,"y":539},{"c":2,"i":1,"d":33,"y":544},{"c":2,"i":2,"d":83,"y":569},{"c":2,"i":3,"d":153,"y":582},{"c":2,"i":4,"d":283,"y":590},{"c":2,"i":5,"d":483,"y":591},{"c":2,"i":6,"d":610,"y":586},
{"c":3,"i":0,"d":0,"y":494},{"c":3,"i":1,"d":28,"y":502},{"c":3,"i":2,"d":68,"y":544},{"c":3,"i":3,"d":113,"y":564},{"c":3,"i":4,"d":203,"y":577},{"c":3,"i":5,"d":333,"y":582},{"c":3,"i":6,"d":483,"y":581},{"c":3,"i":7,"d":610,"y":574},
{"c":4,"i":0,"d":0,"y":438},{"c":4,"i":1,"d":23,"y":449},{"c":4,"i":2,"d":43,"y":494},{"c":4,"i":3,"d":68,"y":529},{"c":4,"i":4,"d":113,"y":554},{"c":4,"i":5,"d":203,"y":566},{"c":4,"i":6,"d":363,"y":571},{"c":4,"i":7,"d":610,"y":564},
{"c":5,"i":0,"d":0,"y":359},{"c":5,"i":1,"d":23,"y":374},{"c":5,"i":2,"d":43,"y":434},{"c":5,"i":3,"d":63,"y":494},{"c":5,"i":4,"d":93,"y":532},{"c":5,"i":5,"d":153,"y":549},{"c":5,"i":6,"d":283,"y":557},{"c":5,"i":7,"d":483,"y":558},{"c":5,"i":8,"d":610,"y":552},
{"c":6,"i":0,"d":0,"y":221},{"c":6,"i":1,"d":25,"y":239},{"c":6,"i":2,"d":45,"y":304},{"c":6,"i":3,"d":61,"y":404},{"c":6,"i":4,"d":83,"y":484},{"c":6,"i":5,"d":123,"y":524},{"c":6,"i":6,"d":203,"y":544},{"c":6,"i":7,"d":333,"y":552},{"c":6,"i":8,"d":483,"y":551},{"c":6,"i":9,"d":610,"y":539},
{"c":7,"i":0,"d":0,"y":144},{"c":7,"i":1,"d":73,"y":159},{"c":7,"i":2,"d":111,"y":194},{"c":7,"i":3,"d":98,"y":254},{"c":7,"i":4,"d":88,"y":344},{"c":7,"i":5,"d":98,"y":424},{"c":7,"i":6,"d":128,"y":494},{"c":7,"i":7,"d":183,"y":524},{"c":7,"i":8,"d":283,"y":539},{"c":7,"i":9,"d":403,"y":544},{"c":7,"i":10,"d":523,"y":539},{"c":7,"i":11,"d":610,"y":526},
{"c":8,"i":0,"d":0,"y":119},{"c":8,"i":1,"d":93,"y":129},{"c":8,"i":2,"d":163,"y":159},{"c":8,"i":3,"d":190,"y":194},{"c":8,"i":4,"d":173,"y":239},{"c":8,"i":5,"d":138,"y":294},{"c":8,"i":6,"d":123,"y":374},{"c":8,"i":7,"d":128,"y":434},{"c":8,"i":8,"d":163,"y":499},{"c":8,"i":9,"d":223,"y":519},{"c":8,"i":10,"d":323,"y":532},{"c":8,"i":11,"d":463,"y":529},{"c":8,"i":12,"d":610,"y":511},
{"c":9,"i":0,"d":0,"y":104},{"c":9,"i":1,"d":113,"y":114},{"c":9,"i":2,"d":203,"y":144},{"c":9,"i":3,"d":263,"y":194},{"c":9,"i":4,"d":263,"y":234},{"c":9,"i":5,"d":223,"y":274},{"c":9,"i":6,"d":173,"y":324},{"c":9,"i":7,"d":158,"y":379},{"c":9,"i":8,"d":173,"y":444},{"c":9,"i":9,"d":223,"y":494},{"c":9,"i":10,"d":303,"y":516},{"c":9,"i":11,"d":433,"y":519},{"c":9,"i":12,"d":543,"y":511},{"c":9,"i":13,"d":610,"y":496},
{"c":10,"i":0,"d":0,"y":92},{"c":10,"i":1,"d":143,"y":102},{"c":10,"i":2,"d":253,"y":134},{"c":10,"i":3,"d":323,"y":184},{"c":10,"i":4,"d":335,"y":229},{"c":10,"i":5,"d":308,"y":279},{"c":10,"i":6,"d":253,"y":314},{"c":10,"i":7,"d":208,"y":369},{"c":10,"i":8,"d":208,"y":409},{"c":10,"i":9,"d":243,"y":459},{"c":10,"i":10,"d":323,"y":499},{"c":10,"i":11,"d":433,"y":504},{"c":10,"i":12,"d":543,"y":494},{"c":10,"i":13,"d":610,"y":481},
{"c":11,"i":0,"d":0,"y":82},{"c":11,"i":1,"d":163,"y":92},{"c":11,"i":2,"d":283,"y":124},{"c":11,"i":3,"d":363,"y":184},{"c":11,"i":4,"d":383,"y":239},{"c":11,"i":5,"d":368,"y":294},{"c":11,"i":6,"d":313,"y":354},{"c":11,"i":7,"d":273,"y":404},{"c":11,"i":8,"d":293,"y":444},{"c":11,"i":9,"d":363,"y":474},{"c":11,"i":10,"d":463,"y":484},{"c":11,"i":11,"d":610,"y":467},
{"c":12,"i":0,"d":0,"y":73},{"c":12,"i":1,"d":183,"y":84},{"c":12,"i":2,"d":303,"y":114},{"c":12,"i":3,"d":393,"y":184},{"c":12,"i":4,"d":420,"y":254},{"c":12,"i":5,"d":403,"y":324},{"c":12,"i":6,"d":363,"y":384},{"c":12,"i":7,"d":355,"y":414},{"c":12,"i":8,"d":383,"y":449},{"c":12,"i":9,"d":453,"y":462},{"c":12,"i":10,"d":543,"y":454},{"c":12,"i":11,"d":610,"y":444},
{"c":13,"i":0,"d":0,"y":64},{"c":13,"i":1,"d":203,"y":76},{"c":13,"i":2,"d":333,"y":109},{"c":13,"i":3,"d":423,"y":184},{"c":13,"i":4,"d":453,"y":264},{"c":13,"i":5,"d":438,"y":344},{"c":13,"i":6,"d":428,"y":404},{"c":13,"i":7,"d":448,"y":429},{"c":13,"i":8,"d":503,"y":434},{"c":13,"i":9,"d":610,"y":419},
{"c":14,"i":0,"d":0,"y":56},{"c":14,"i":1,"d":223,"y":69},{"c":14,"i":2,"d":363,"y":109},{"c":14,"i":3,"d":453,"y":184},{"c":14,"i":4,"d":483,"y":274},{"c":14,"i":5,"d":493,"y":364},{"c":14,"i":6,"d":518,"y":389},{"c":14,"i":7,"d":563,"y":389},{"c":14,"i":8,"d":610,"y":382},
{"c":15,"i":0,"d":0,"y":48},{"c":15,"i":1,"d":243,"y":64},{"c":15,"i":2,"d":383,"y":99},{"c":15,"i":3,"d":473,"y":184},{"c":15,"i":4,"d":523,"y":274},{"c":15,"i":5,"d":563,"y":314},{"c":15,"i":6,"d":610,"y":318},
{"c":16,"i":0,"d":0,"y":42},{"c":16,"i":1,"d":253,"y":56},{"c":16,"i":2,"d":403,"y":94},{"c":16,"i":3,"d":513,"y":184},{"c":16,"i":4,"d":563,"y":224},{"c":16,"i":5,"d":610,"y":227},
{"c":17,"i":0,"d":0,"y":34},{"c":17,"i":1,"d":263,"y":49},{"c":17,"i":2,"d":423,"y":89},{"c":17,"i":3,"d":533,"y":144},{"c":17,"i":4,"d":573,"y":154},{"c":17,"i":5,"d":610,"y":154},
{"c":18,"i":0,"d":0,"y":24},{"c":18,"i":1,"d":283,"y":39},{"c":18,"i":2,"d":443,"y":69},{"c":18,"i":3,"d":553,"y":94},{"c":18,"i":4,"d":610,"y":94},
{"c":19,"i":0,"d":0,"y":12},{"c":19,"i":1,"d":383,"y":16},{"c":19,"i":2,"d":483,"y":24},{"c":19,"i":3,"d":573,"y":44},{"c":19,"i":4,"d":610,"y":46}
]},
"layer":[
{"data":{"name":"cells"},"mark":"rect","encoding":{"x":{"datum":0,"scale":{"domain":[-70,1061]}},"x2":{"datum":38},"y":{"field":"k","type":"quantitative","scale":{"domain":[-43.065,20.675]}},"y2":{"field":"k1"},"color":{"field":"k","type":"ordinal","scale":{"domain":[0,1,2,3,4,5,6,7,8,9,10,11,12,13,14,15,16,17,18,19],"range":["#0000ff","#0000ff","#0010ff","#0050ff","#00a0ff","#00ffff","#00ff8c","#00ff30","#00ff00","#00ff00","#0fff00","#2fff00","#8fff00","#ffff00","#ffb400","#ff6000","#ff2f00","#ff1000","#ff0000","#ff0000"]}}}},
{"data":{"name":"labA"},"mark":{"type":"text","align":"left","baseline":"middle","fontSize":11,"color":"#333","dy":1},"encoding":{"x":{"datum":54,"scale":{"domain":[-70,1061]}},"y":{"field":"k","type":"quantitative","scale":{"domain":[-43.065,20.675]}},"text":{"field":"t"}}},
{"data":{"name":"cells"},"mark":"rect","encoding":{"x":{"datum":0,"scale":{"domain":[-1022,109]}},"x2":{"datum":37},"y":{"field":"k","type":"quantitative","scale":{"domain":[-43.117,20.623]}},"y2":{"field":"k1"},"color":{"field":"k","type":"ordinal","scale":{"domain":[0,1,2,3,4,5,6,7,8,9,10,11,12,13,14,15,16,17,18,19],"range":["#0000ff","#0070ff","#00a0ff","#00c8ff","#00e6ff","#00ffff","#00ffd2","#00ffaa","#00ff78","#00ff00","#80ff00","#b4ff00","#dcff00","#ffff00","#ffdc00","#ffc800","#ffaa00","#ff8c00","#ff6400","#ff0000"]}}}},
{"data":{"name":"labT"},"mark":{"type":"text","align":"left","baseline":"middle","fontSize":11,"color":"#333","dy":1},"encoding":{"x":{"datum":54,"scale":{"domain":[-1022,109]}},"y":{"field":"k","type":"quantitative","scale":{"domain":[-43.117,20.623]}},"text":{"field":"t"}}},
{"data":{"name":"cells"},"mark":"rect","encoding":{"x":{"datum":0,"scale":{"domain":[-70,1061]}},"x2":{"datum":37},"y":{"field":"k","type":"quantitative","scale":{"domain":[-21.818,41.922]}},"y2":{"field":"k1"},"color":{"field":"k","type":"ordinal","scale":{"domain":[0,1,2,3,4,5,6,7,8,9,10,11,12,13,14,15,16,17,18,19],"range":["#0000ff","#0008ff","#0038ff","#0078ff","#00c0ff","#00ffff","#00ffa5","#00ff50","#00ff00","#00ff00","#1eff00","#5aff00","#b4ff00","#ffff00","#ffc800","#ff8c00","#ff5500","#ff2f00","#ff0e00","#ff0000"]}}}},
{"data":{"name":"labB"},"mark":{"type":"text","align":"left","baseline":"middle","fontSize":11,"color":"#333","dy":1},"encoding":{"x":{"datum":54,"scale":{"domain":[-70,1061]}},"y":{"field":"k","type":"quantitative","scale":{"domain":[-21.818,41.922]}},"text":{"field":"t"}}},
{"data":{"name":"cells"},"mark":"rect","encoding":{"x":{"datum":0,"scale":{"domain":[-1022,109]}},"x2":{"datum":37},"y":{"field":"k","type":"quantitative","scale":{"domain":[-21.766,41.974]}},"y2":{"field":"k1"},"color":{"field":"k","type":"ordinal","scale":{"domain":[0,1,2,3,4,5,6,7,8,9,10,11,12,13,14,15,16,17,18,19],"range":["#0000ff","#0070ff","#00a0ff","#00c8ff","#00e6ff","#00ffff","#00ffd2","#00ffaa","#00ff78","#00ff00","#80ff00","#b4ff00","#dcff00","#ffff00","#ffdc00","#ffc800","#ffaa00","#ff8c00","#ff6400","#ff0000"]}}}},
{"data":{"name":"labT"},"mark":{"type":"text","align":"left","baseline":"middle","fontSize":11,"color":"#333","dy":1},"encoding":{"x":{"datum":54,"scale":{"domain":[-1022,109]}},"y":{"field":"k","type":"quantitative","scale":{"domain":[-21.766,41.974]}},"text":{"field":"t"}}},
{"data":{"name":"cells"},"mark":"rect","encoding":{"x":{"datum":0,"scale":{"domain":[-69,1062]}},"x2":{"datum":37},"y":{"field":"k","type":"quantitative","scale":{"domain":[-0.727,63.013]}},"y2":{"field":"k1"},"color":{"field":"k","type":"ordinal","scale":{"domain":[0,1,2,3,4,5,6,7,8,9,10,11,12,13,14,15,16,17,18,19],"range":["#0000ff","#0030ff","#0070ff","#00aaff","#00d4ff","#00ffff","#00ffc0","#00ff80","#00ff50","#00ff00","#3cff00","#8cff00","#c8ff00","#ffff00","#ffd400","#ffaa00","#ff8000","#ff5500","#ff2a00","#ff0000"]}}}},
{"data":{"name":"labC"},"mark":{"type":"text","align":"left","baseline":"middle","fontSize":11,"color":"#333","dy":1},"encoding":{"x":{"datum":54,"scale":{"domain":[-69,1062]}},"y":{"field":"k","type":"quantitative","scale":{"domain":[-0.727,63.013]}},"text":{"field":"t"}}},
{"data":{"name":"cells"},"mark":"rect","encoding":{"x":{"datum":0,"scale":{"domain":[-1023,108]}},"x2":{"datum":37},"y":{"field":"k","type":"quantitative","scale":{"domain":[-0.26,63.481]}},"y2":{"field":"k1"},"color":{"field":"k","type":"ordinal","scale":{"domain":[0,1,2,3,4,5,6,7,8,9,10,11,12,13,14,15,16,17,18,19],"range":["#0000ff","#0070ff","#00a0ff","#00c8ff","#00e6ff","#00ffff","#00ffd2","#00ffaa","#00ff78","#00ff00","#80ff00","#b4ff00","#dcff00","#ffff00","#ffdc00","#ffc800","#ffaa00","#ff8c00","#ff6400","#ff0000"]}}}},
{"data":{"name":"labT"},"mark":{"type":"text","align":"left","baseline":"middle","fontSize":11,"color":"#333","dy":1},"encoding":{"x":{"datum":54,"scale":{"domain":[-1023,108]}},"y":{"field":"k","type":"quantitative","scale":{"domain":[-0.26,63.481]}},"text":{"field":"t"}}},

{"data":{"name":"vec"},"encoding":{"x":{"field":"d2","type":"quantitative","scale":{"domain":[-1132.5,2260.5]}},"y":{"field":"y2","type":"quantitative","scale":{"domain":[-2757,924]}},"color":{"field":"c","type":"ordinal","scale":{"domain":[0,1,2,3,4,5,6,7,8,9,10,11,12,13,14,15,16,17,18,19],"range":["#0000ff","#0000ff","#0010ff","#0050ff","#00a0ff","#00ffff","#00ff8c","#00ff30","#00ff00","#00ff00","#0fff00","#2fff00","#8fff00","#ffff00","#ffb400","#ff6000","#ff2f00","#ff1000","#ff0000","#ff0000"]}}},"layer":[{"mark":{"type":"rule","strokeWidth":1,"opacity":0.85},"encoding":{"x2":{"field":"d"},"y2":{"field":"y"}}},{"mark":{"type":"point","filled":true,"size":3,"opacity":1}}]},
{"data":{"name":"vec"},"encoding":{"x":{"field":"d2","type":"quantitative","scale":{"domain":[1132.5,-2260.5]}},"y":{"field":"y2","type":"quantitative","scale":{"domain":[-2757,924]}},"color":{"field":"c","type":"ordinal","scale":{"domain":[0,1,2,3,4,5,6,7,8,9,10,11,12,13,14,15,16,17,18,19],"range":["#0000ff","#0000ff","#0010ff","#0050ff","#00a0ff","#00ffff","#00ff8c","#00ff30","#00ff00","#00ff00","#0fff00","#2fff00","#8fff00","#ffff00","#ffb400","#ff6000","#ff2f00","#ff1000","#ff0000","#ff0000"]}}},"layer":[{"mark":{"type":"rule","strokeWidth":1,"opacity":0.85},"encoding":{"x2":{"field":"d"},"y2":{"field":"y"}}},{"mark":{"type":"point","filled":true,"size":3,"opacity":1}}]},
{"data":{"name":"vec"},"encoding":{"x":{"field":"d2","type":"quantitative","scale":{"domain":[-1132.5,2260.5]}},"y":{"field":"y2","type":"quantitative","scale":{"domain":[-1527,2154]}},"color":{"field":"c","type":"ordinal","scale":{"domain":[0,1,2,3,4,5,6,7,8,9,10,11,12,13,14,15,16,17,18,19],"range":["#0000ff","#0008ff","#0038ff","#0078ff","#00c0ff","#00ffff","#00ffa5","#00ff50","#00ff00","#00ff00","#1eff00","#5aff00","#b4ff00","#ffff00","#ffc800","#ff8c00","#ff5500","#ff2f00","#ff0e00","#ff0000"]}}},"layer":[{"mark":{"type":"rule","strokeWidth":1,"opacity":0.85},"encoding":{"x2":{"field":"d"},"y2":{"field":"y"}}},{"mark":{"type":"point","filled":true,"size":3,"opacity":1}}]},
{"data":{"name":"vec"},"encoding":{"x":{"field":"d2","type":"quantitative","scale":{"domain":[1132.5,-2260.5]}},"y":{"field":"y2","type":"quantitative","scale":{"domain":[-1527,2154]}},"color":{"field":"c","type":"ordinal","scale":{"domain":[0,1,2,3,4,5,6,7,8,9,10,11,12,13,14,15,16,17,18,19],"range":["#0000ff","#0008ff","#0038ff","#0078ff","#00c0ff","#00ffff","#00ffa5","#00ff50","#00ff00","#00ff00","#1eff00","#5aff00","#b4ff00","#ffff00","#ffc800","#ff8c00","#ff5500","#ff2f00","#ff0e00","#ff0000"]}}},"layer":[{"mark":{"type":"rule","strokeWidth":1,"opacity":0.85},"encoding":{"x2":{"field":"d"},"y2":{"field":"y"}}},{"mark":{"type":"point","filled":true,"size":3,"opacity":1}}]},
{"data":{"name":"vec"},"encoding":{"x":{"field":"d2","type":"quantitative","scale":{"domain":[-1129.5,2263.5]}},"y":{"field":"y2","type":"quantitative","scale":{"domain":[-312,3369]}},"color":{"field":"c","type":"ordinal","scale":{"domain":[0,1,2,3,4,5,6,7,8,9,10,11,12,13,14,15,16,17,18,19],"range":["#0000ff","#0030ff","#0070ff","#00aaff","#00d4ff","#00ffff","#00ffc0","#00ff80","#00ff50","#00ff00","#3cff00","#8cff00","#c8ff00","#ffff00","#ffd400","#ffaa00","#ff8000","#ff5500","#ff2a00","#ff0000"]}}},"layer":[{"mark":{"type":"rule","strokeWidth":1,"opacity":0.85},"encoding":{"x2":{"field":"d"},"y2":{"field":"y"}}},{"mark":{"type":"point","filled":true,"size":3,"opacity":1}}]},
{"data":{"name":"vec"},"encoding":{"x":{"field":"d2","type":"quantitative","scale":{"domain":[1129.5,-2263.5]}},"y":{"field":"y2","type":"quantitative","scale":{"domain":[-312,3369]}},"color":{"field":"c","type":"ordinal","scale":{"domain":[0,1,2,3,4,5,6,7,8,9,10,11,12,13,14,15,16,17,18,19],"range":["#0000ff","#0030ff","#0070ff","#00aaff","#00d4ff","#00ffff","#00ffc0","#00ff80","#00ff50","#00ff00","#3cff00","#8cff00","#c8ff00","#ffff00","#ffd400","#ffaa00","#ff8000","#ff5500","#ff2a00","#ff0000"]}}},"layer":[{"mark":{"type":"rule","strokeWidth":1,"opacity":0.85},"encoding":{"x2":{"field":"d"},"y2":{"field":"y"}}},{"mark":{"type":"point","filled":true,"size":3,"opacity":1}}]},

{"data":{"name":"isoA"},"mark":{"type":"line","interpolate":"monotone","strokeWidth":1,"opacity":0.85},"encoding":{"x":{"field":"d","type":"quantitative","scale":{"domain":[-2404.5,988.5]}},"y":{"field":"y","type":"quantitative","scale":{"domain":[-2757,924]}},"order":{"field":"d"},"color":{"field":"c","type":"ordinal","scale":{"domain":[0,1,2,3,4,5,6,7,8,9,10,11,12,13,14,15,16,17,18,19],"range":["#0000ff","#2020ff","#0050ff","#0080ff","#00b0ff","#00e0ff","#00ffe0","#00ffb0","#00ff80","#00ff50","#00ff00","#70ff00","#c0ff00","#ffff00","#ffc800","#ff9000","#ff6000","#ff4000","#ff2000","#ff0000"]}}}},
{"data":{"name":"isoA"},"mark":{"type":"line","interpolate":"monotone","strokeWidth":1,"opacity":0.85},"encoding":{"x":{"field":"d","type":"quantitative","scale":{"domain":[2404.5,-988.5]}},"y":{"field":"y","type":"quantitative","scale":{"domain":[-2757,924]}},"order":{"field":"d"},"color":{"field":"c","type":"ordinal","scale":{"domain":[0,1,2,3,4,5,6,7,8,9,10,11,12,13,14,15,16,17,18,19],"range":["#0000ff","#2020ff","#0050ff","#0080ff","#00b0ff","#00e0ff","#00ffe0","#00ffb0","#00ff80","#00ff50","#00ff00","#70ff00","#c0ff00","#ffff00","#ffc800","#ff9000","#ff6000","#ff4000","#ff2000","#ff0000"]}}}},
{"data":{"name":"isoB"},"mark":{"type":"line","interpolate":"catmull-rom","strokeWidth":1,"opacity":0.85},"encoding":{"x":{"field":"d","type":"quantitative","scale":{"domain":[-2398.5,994.5]}},"y":{"field":"y","type":"quantitative","scale":{"domain":[-1527,2154]}},"order":{"field":"i"},"color":{"field":"c","type":"ordinal","scale":{"domain":[0,1,2,3,4,5,6,7,8,9,10,11,12,13,14,15,16,17,18,19],"range":["#0000ff","#2020ff","#0050ff","#0080ff","#00b0ff","#00e0ff","#00ffe0","#00ffb0","#00ff80","#00ff50","#00ff00","#70ff00","#c0ff00","#ffff00","#ffc800","#ff9000","#ff6000","#ff4000","#ff2000","#ff0000"]}}}},
{"data":{"name":"isoB"},"mark":{"type":"line","interpolate":"catmull-rom","strokeWidth":1,"opacity":0.85},"encoding":{"x":{"field":"d","type":"quantitative","scale":{"domain":[2398.5,-994.5]}},"y":{"field":"y","type":"quantitative","scale":{"domain":[-1527,2154]}},"order":{"field":"i"},"color":{"field":"c","type":"ordinal","scale":{"domain":[0,1,2,3,4,5,6,7,8,9,10,11,12,13,14,15,16,17,18,19],"range":["#0000ff","#2020ff","#0050ff","#0080ff","#00b0ff","#00e0ff","#00ffe0","#00ffb0","#00ff80","#00ff50","#00ff00","#70ff00","#c0ff00","#ffff00","#ffc800","#ff9000","#ff6000","#ff4000","#ff2000","#ff0000"]}}}},
{"data":{"name":"isoC"},"mark":{"type":"line","interpolate":"catmull-rom","strokeWidth":1,"opacity":0.85},"encoding":{"x":{"field":"d","type":"quantitative","scale":{"domain":[-2386.5,1012.5]}},"y":{"field":"y","type":"quantitative","scale":{"domain":[-312,3369]}},"order":{"field":"i"},"color":{"field":"c","type":"ordinal","scale":{"domain":[0,1,2,3,4,5,6,7,8,9,10,11,12,13,14,15,16,17,18,19],"range":["#0000ff","#2020ff","#0050ff","#0080ff","#00b0ff","#00e0ff","#00ffe0","#00ffb0","#00ff80","#00ff50","#00ff00","#70ff00","#c0ff00","#ffff00","#ffc800","#ff9000","#ff6000","#ff4000","#ff2000","#ff0000"]}}}},
{"data":{"name":"isoC"},"mark":{"type":"line","interpolate":"catmull-rom","strokeWidth":1,"opacity":0.85},"encoding":{"x":{"field":"d","type":"quantitative","scale":{"domain":[2386.5,-1012.5]}},"y":{"field":"y","type":"quantitative","scale":{"domain":[-312,3369]}},"order":{"field":"i"},"color":{"field":"c","type":"ordinal","scale":{"domain":[0,1,2,3,4,5,6,7,8,9,10,11,12,13,14,15,16,17,18,19],"range":["#0000ff","#2020ff","#0050ff","#0080ff","#00b0ff","#00e0ff","#00ffe0","#00ffb0","#00ff80","#00ff50","#00ff00","#70ff00","#c0ff00","#ffff00","#ffc800","#ff9000","#ff6000","#ff4000","#ff2000","#ff0000"]}}}},

{"data":{"name":"frame"},"mark":{"type":"rect","fillOpacity":0,"stroke":"#555","strokeWidth":1},"encoding":{"x":{"field":"a","type":"quantitative","scale":{"domain":[-1132.5,2260.5]}},"x2":{"field":"b"},"y":{"field":"lo","type":"quantitative","scale":{"domain":[-2757,924]}},"y2":{"field":"hi"}}},
{"data":{"name":"frame"},"mark":{"type":"rect","fillOpacity":0,"stroke":"#555","strokeWidth":1},"encoding":{"x":{"field":"a","type":"quantitative","scale":{"domain":[-2404.5,988.5]}},"x2":{"field":"b"},"y":{"field":"lo","type":"quantitative","scale":{"domain":[-2757,924]}},"y2":{"field":"hi"}}},
{"data":{"name":"frame"},"mark":{"type":"rect","fillOpacity":0,"stroke":"#555","strokeWidth":1},"encoding":{"x":{"field":"a","type":"quantitative","scale":{"domain":[-1132.5,2260.5]}},"x2":{"field":"b"},"y":{"field":"lo","type":"quantitative","scale":{"domain":[-1527,2154]}},"y2":{"field":"hi"}}},
{"data":{"name":"frame"},"mark":{"type":"rect","fillOpacity":0,"stroke":"#555","strokeWidth":1},"encoding":{"x":{"field":"a","type":"quantitative","scale":{"domain":[-2398.5,994.5]}},"x2":{"field":"b"},"y":{"field":"lo","type":"quantitative","scale":{"domain":[-1527,2154]}},"y2":{"field":"hi"}}},
{"data":{"name":"frame"},"mark":{"type":"rect","fillOpacity":0,"stroke":"#555","strokeWidth":1},"encoding":{"x":{"field":"a","type":"quantitative","scale":{"domain":[-1129.5,2263.5]}},"x2":{"field":"b"},"y":{"field":"lo","type":"quantitative","scale":{"domain":[-312,3369]}},"y2":{"field":"hi"}}},
{"data":{"name":"frame"},"mark":{"type":"rect","fillOpacity":0,"stroke":"#555","strokeWidth":1},"encoding":{"x":{"field":"a","type":"quantitative","scale":{"domain":[-2386.5,1012.5]}},"x2":{"field":"b"},"y":{"field":"lo","type":"quantitative","scale":{"domain":[-312,3369]}},"y2":{"field":"hi"}}},

{"data":{"name":"capA"},"mark":{"type":"text","font":"Liberation Serif","fontSize":21,"color":"#000","baseline":"middle"},"encoding":{"x":{"field":"d","type":"quantitative","scale":{"domain":[-1132.5,2260.5]}},"y":{"field":"y","type":"quantitative","scale":{"domain":[-2757,924]}},"text":{"field":"t"}}},
{"data":{"name":"capB"},"mark":{"type":"text","font":"Liberation Serif","fontSize":21,"color":"#000","baseline":"middle"},"encoding":{"x":{"field":"d","type":"quantitative","scale":{"domain":[-1132.5,2260.5]}},"y":{"field":"y","type":"quantitative","scale":{"domain":[-1527,2154]}},"text":{"field":"t"}}},
{"data":{"name":"capC"},"mark":{"type":"text","font":"Liberation Serif","fontSize":21,"color":"#000","baseline":"middle"},"encoding":{"x":{"field":"d","type":"quantitative","scale":{"domain":[-1129.5,2263.5]}},"y":{"field":"y","type":"quantitative","scale":{"domain":[-312,3369]}},"text":{"field":"t"}}}
]}
